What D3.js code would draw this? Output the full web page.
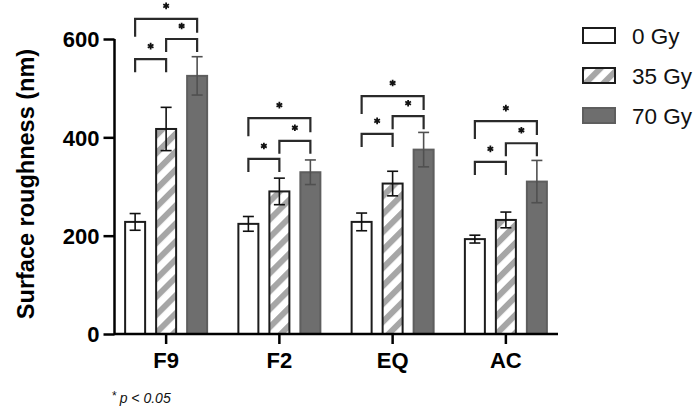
<!DOCTYPE html>
<html><head><meta charset="utf-8">
<script src="https://cdn.jsdelivr.net/npm/d3@7"></script>
<style>body{margin:0;background:#fff;} svg{display:block;font-family:"Liberation Sans",Arial,sans-serif;}</style>
</head><body><svg id="c" width="700" height="410"></svg>
<script>
const categories = ["F9", "F2", "EQ", "AC"];
const seriesNames = ["0 Gy", "35 Gy", "70 Gy"];
const mean0 = [228, 224, 228, 193];
const mean35 = [417, 290, 306, 232];
const mean70 = [525, 329, 375, 310];
const err0 = [17, 15, 18, 8];
const err35 = [44, 27, 25, 16];
const err70 = [39, 25, 35, 43];
const yTicks = [0, 200, 400, 600];
// significance brackets: [from series, to series], height in nm for each category
const bracketPairs = [[0, 1], [1, 2], [0, 2]];
const bracketLevels = [
  [559, 600, 641],
  [356, 393, 439],
  [407, 443, 484],
  [350, 388, 433]
];
const footnote = "p < 0.05";

const means = [mean0, mean35, mean70];
const errs = [err0, err35, err70];

const svg = d3.select("#c");
const defs = svg.append("defs");
defs.append("pattern").attr("id", "hatch").attr("patternUnits", "userSpaceOnUse")
  .attr("width", 12.7).attr("height", 12.7).attr("patternTransform", "rotate(45)")
  .call(p => {
    p.append("rect").attr("width", 12.7).attr("height", 12.7).attr("fill", "#fff");
    p.append("rect").attr("x", 0).attr("width", 6).attr("height", 12.7).attr("fill", "#a6a6a6");
  });

const fills = ["#ffffff", "url(#hatch)", "#6e6e6e"];
const strokes = ["#1c1c1c", "#1c1c1c", "#5e5e5e"];
const errColors = ["#111", "#111", "#505050"];

const x = d3.scaleBand().domain(categories).range([109.5, 562.5]).padding(0);
const xs = d3.scaleBand().domain(d3.range(3)).range([-46.5, 46.5]).paddingInner(0.355).paddingOuter(0.1775);
const y = d3.scaleLinear().domain([0, 600]).range([334, 39]);

const cx = (ci, si) => x(categories[ci]) + x.bandwidth() / 2 + xs(si) + xs.bandwidth() / 2;

// bars
const g = svg.append("g");
categories.forEach((c, ci) => {
  seriesNames.forEach((s, si) => {
    const v = means[si][ci];
    g.append("rect")
      .attr("x", x(c) + x.bandwidth() / 2 + xs(si))
      .attr("y", y(v))
      .attr("width", xs.bandwidth())
      .attr("height", y(0) - y(v))
      .attr("fill", fills[si]).attr("stroke", strokes[si]).attr("stroke-width", 2);
  });
});
// error bars
categories.forEach((c, ci) => {
  seriesNames.forEach((s, si) => {
    const v = means[si][ci], e = errs[si][ci], xc = cx(ci, si);
    const eg = g.append("g").attr("stroke", errColors[si]).attr("stroke-width", 1.6).attr("fill", "none");
    eg.append("line").attr("x1", xc).attr("x2", xc).attr("y1", y(v + e)).attr("y2", y(v - e));
    eg.append("line").attr("x1", xc - 5.5).attr("x2", xc + 5.5).attr("y1", y(v + e)).attr("y2", y(v + e));
    eg.append("line").attr("x1", xc - 5.5).attr("x2", xc + 5.5).attr("y1", y(v - e)).attr("y2", y(v - e));
  });
});

// brackets
const star = d3.symbol().type(d3.symbolAsterisk).size(30);
categories.forEach((c, ci) => {
  bracketPairs.forEach(([a, b], bi) => {
    const lv = y(bracketLevels[ci][bi]);
    const x1 = cx(ci, a), x2 = cx(ci, b);
    const legL = bi === 2 ? 18 : 13, legR = bi === 2 ? 14 : 13;
    g.append("path")
      .attr("d", `M${x1},${lv + legL}V${lv}H${x2}V${lv + legR}`)
      .attr("fill", "none").attr("stroke", "#2a2a2a").attr("stroke-width", 2.2);
    g.append("path").attr("d", star())
      .attr("transform", `translate(${(x1 + x2) / 2},${lv - 13})`)
      .attr("fill", "none").attr("stroke", "#111").attr("stroke-width", 1.8);
  });
});

// axes
const yAxis = svg.append("g").attr("transform", "translate(114.5,0)")
  .call(d3.axisLeft(y).tickValues(yTicks).tickSize(11).tickPadding(4));
yAxis.select(".domain").attr("d", `M0,${y(600)}V${y(0)}`).attr("stroke-width", 2.5);
yAxis.selectAll(".tick line").attr("stroke-width", 2.5);
yAxis.selectAll(".tick text").attr("font-size", 22).attr("font-weight", "bold").attr("font-family", "Liberation Sans, Arial, sans-serif").attr("dy", "0.36em").attr("fill", "#000");

const xAxis = svg.append("g").attr("transform", `translate(0,${y(0)})`)
  .call(d3.axisBottom(x).tickSize(10).tickPadding(8));
xAxis.select(".domain").attr("d", "M114,0H558").attr("stroke-width", 2.5);
xAxis.selectAll(".tick line").attr("stroke-width", 2.5);
xAxis.selectAll(".tick text").attr("font-size", 22).attr("font-weight", "bold").attr("font-family", "Liberation Sans, Arial, sans-serif").attr("fill", "#000");

// y label
svg.append("text").attr("transform", "translate(34,184) rotate(-90)")
  .attr("text-anchor", "middle").attr("font-size", 23.5).attr("font-weight", "bold")
  .text("Surface roughness (nm)");

// legend
const lg = svg.append("g");
seriesNames.forEach((s, si) => {
  const yy = 28 + si * 40;
  lg.append("rect").attr("x", 583).attr("y", yy).attr("width", 32).attr("height", 15)
    .attr("fill", fills[si]).attr("stroke", strokes[si]).attr("stroke-width", 2);
  lg.append("text").attr("x", 632).attr("y", yy + 15.5).attr("font-size", 22.5).attr("fill", "#111").text(s);
});

// footnote
const fn = svg.append("text").attr("x", 112).attr("y", 403).attr("font-size", 14).attr("fill", "#111");
fn.append("tspan").attr("font-size", 12).attr("dy", -3).text("*");
fn.append("tspan").attr("dy", 3).attr("dx", 3).attr("font-style", "italic").text(footnote);
</script></body></html>
